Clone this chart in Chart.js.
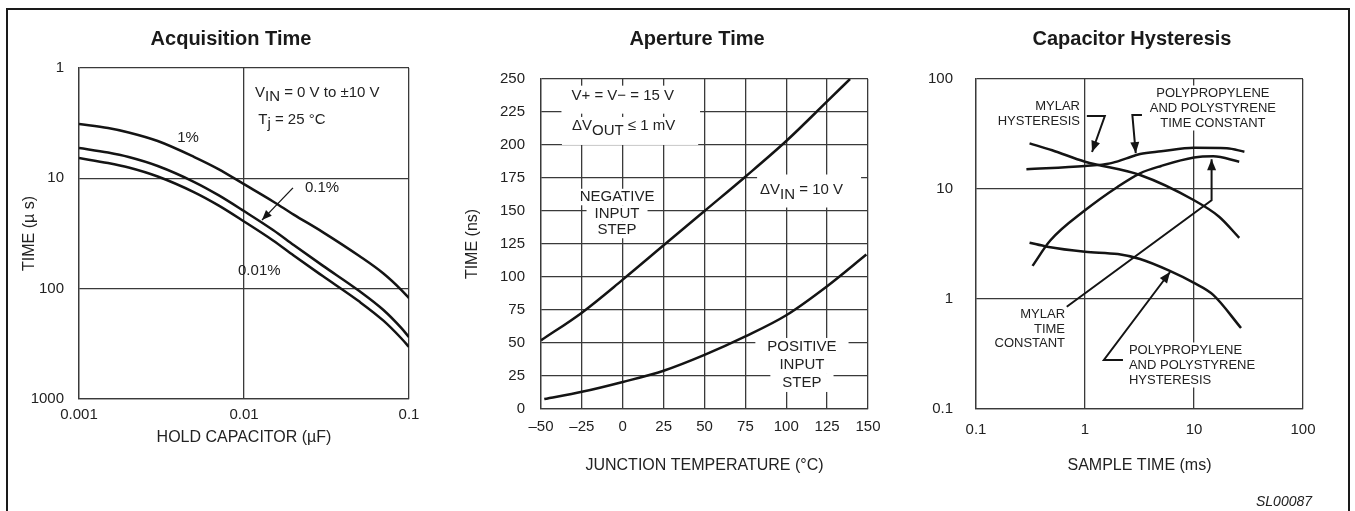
<!DOCTYPE html>
<html>
<head>
<meta charset="utf-8">
<script src="https://cdn.jsdelivr.net/npm/chart.js@4.4.1/dist/chart.umd.min.js"></script>
<style>
html,body{margin:0;padding:0;background:#fff;}
#wrap{position:relative;width:1355px;height:511px;overflow:hidden;background:#fff;}
#wrap canvas{position:absolute;left:0;top:0;}
#frame{position:absolute;left:6px;top:8px;width:1340px;height:540px;border:2px solid #1a1a1a;box-sizing:content-box;}
#code{position:absolute;left:1256px;top:493px;font:italic 14px 'Liberation Sans',Arial,sans-serif;color:#222;}
</style>
</head>
<body>
<div id="wrap">
<div id="frame"></div>
<canvas id="c1" width="1355" height="511"></canvas>
<canvas id="c2" width="1355" height="511"></canvas>
<canvas id="c3" width="1355" height="511"></canvas>
<div id="code">SL00087</div>
</div>
<script>
// ---------- DATA ----------
// Acquisition Time (hold capacitor in µF, time in µs)
const capUF      = [0.001, 0.0015, 0.002, 0.003, 0.005, 0.007, 0.01, 0.015, 0.02, 0.03, 0.05, 0.07, 0.09, 0.1];
const acq1pct    = [3.22, 3.5, 3.84, 4.59, 6.41, 8.24, 11.3, 16.2, 21.3, 30.7, 50.6, 72.9, 103, 122];
const acq01pct   = [5.32, 5.84, 6.41, 7.73, 10.8, 14.2, 19.8, 29.4, 40.2, 61.8, 105, 156, 228, 275];
const acq001pct  = [6.55, 7.26, 7.98, 9.63, 13.4, 17.6, 24.6, 36.6, 50.1, 76.9, 131, 195, 283, 338];
const acqXTicks  = [0.001, 0.01, 0.1];
const acqXLabels = ['0.001', '0.01', '0.1'];
const acqYTicks  = [1, 10, 100, 1000];
const acqYLabels = ['1', '10', '100', '1000'];

// Aperture Time (junction temperature °C, time ns)
const tempNeg = [-50, -25, 0, 25, 50, 75, 100, 125, 139];
const timeNeg = [52, 73, 98, 124, 150, 176, 203, 233, 250];
const tempPos = [-48, -25, 0, 25, 50, 75, 100, 125, 149];
const timePos = [7.5, 13, 20.5, 29, 41, 55, 71, 93, 117];
const apXTicks  = [-50, -25, 0, 25, 50, 75, 100, 125, 150];
const apXLabels = ['\u201350', '\u201325', '0', '25', '50', '75', '100', '125', '150'];
const apYTicks  = [0, 25, 50, 75, 100, 125, 150, 175, 200, 225, 250];
const apYLabels = ['0', '25', '50', '75', '100', '125', '150', '175', '200', '225', '250'];

// Capacitor Hysteresis (sample time ms, percent)
const mylarHysT = [0.31, 0.5, 1, 3.2, 10, 17, 26];
const mylarHysV = [26, 22.5, 17.7, 13.4, 7.9, 5.6, 3.6];
const polyTcT   = [0.29, 1, 1.7, 2.4, 3.2, 5, 10, 20, 29];
const polyTcV   = [15.1, 16.2, 17.1, 19, 20.8, 22, 23.7, 23.5, 21.8];
const mylarTcT  = [0.33, 0.48, 1, 2, 3.2, 5, 10, 15, 26];
const mylarTcV  = [2.0, 3.4, 6.4, 10.5, 13.9, 16.2, 19.3, 19.8, 17.7];
const polyHysT  = [0.31, 0.45, 1, 2, 3.2, 6, 10, 15, 27];
const polyHysV  = [3.25, 2.99, 2.69, 2.56, 2.31, 1.8, 1.4, 1.09, 0.545];
const hysTicks  = [0.1, 1, 10, 100];
const hysXLabels = ['0.1', '1', '10', '100'];
const hysYLabels = ['0.1', '1', '10', '100'];

// ---------- STYLE ----------
const FONT = "'Liberation Sans', Arial, Helvetica, sans-serif";
Chart.defaults.font.family = FONT;
Chart.defaults.color = '#222';
const GRID = '#3a3a3a';
const INK = '#141414';
const TXT = '#222';

function toXY(xs, ys) { return xs.map((x, i) => ({x: x, y: ys[i]})); }
function px(chart, x, y) { return [chart.scales.x.getPixelForValue(x), chart.scales.y.getPixelForValue(y)]; }
function partsOf(line) { return Array.isArray(line) ? line : [line]; }
function measureLine(ctx, line, base) {
  let w = 0;
  partsOf(line).forEach(p => {
    const s = typeof p === 'string' ? p : p.t;
    ctx.font = (typeof p === 'object' && p.f) ? p.f : base;
    w += ctx.measureText(s).width;
  });
  ctx.font = base;
  return w;
}

const notesPlugin = {
  id: 'notes',
  beforeDatasetsDraw(chart, args, o) {
    const ctx = chart.ctx;
    ctx.save();
    (o.texts || []).forEach(t => {
      const base = t.font || o.font;
      const lh = t.lh || o.lh || 15;
      const a = px(chart, t.x, t.y);
      ctx.font = base;
      const ws = t.lines.map(l => measureLine(ctx, l, base));
      const lefts = ws.map(w => t.align === 'right' ? a[0] - w : (t.align === 'left' ? a[0] : a[0] - w / 2));
      if (t.box) {
        ctx.fillStyle = '#fff';
        const [bl, br, bt, bb] = t.box;
        if (t.lineBoxes) {
          t.lines.forEach((l, i) => {
            const cy = a[1] + i * lh;
            ctx.fillRect(lefts[i] - bl, cy - lh / 2 - bt, ws[i] + bl + br, lh + bt + bb);
          });
        } else {
          const l0 = Math.min(...lefts);
          const r0 = Math.max(...lefts.map((l, i) => l + ws[i]));
          ctx.fillRect(l0 - bl, a[1] - lh / 2 - bt, r0 - l0 + bl + br, lh * t.lines.length + bt + bb);
        }
      }
      ctx.fillStyle = TXT;
      ctx.textBaseline = 'middle';
      ctx.textAlign = 'left';
      t.lines.forEach((l, i) => {
        let cx = lefts[i];
        const cy = a[1] + i * lh;
        partsOf(l).forEach(p => {
          const s = typeof p === 'string' ? p : p.t;
          ctx.font = (typeof p === 'object' && p.f) ? p.f : base;
          ctx.fillText(s, cx, cy + ((typeof p === 'object' && p.dy) ? p.dy : 0));
          cx += ctx.measureText(s).width;
        });
      });
    });
    ctx.restore();
  },
  afterDatasetsDraw(chart, args, o) {
    const ctx = chart.ctx;
    ctx.save();
    ctx.strokeStyle = INK;
    ctx.fillStyle = INK;
    (o.arrows || []).forEach(ar => {
      const pts = ar.pts.map(p => px(chart, p[0], p[1]));
      ctx.lineWidth = ar.w || 2;
      ctx.beginPath();
      pts.forEach((p, i) => i ? ctx.lineTo(p[0], p[1]) : ctx.moveTo(p[0], p[1]));
      ctx.stroke();
      const p1 = pts[pts.length - 2], p2 = pts[pts.length - 1];
      const ang = Math.atan2(p2[1] - p1[1], p2[0] - p1[0]);
      const L = ar.hl || 11, W = ar.hw || 4;
      ctx.beginPath();
      ctx.moveTo(p2[0], p2[1]);
      ctx.lineTo(p2[0] - L * Math.cos(ang) + W * Math.sin(ang), p2[1] - L * Math.sin(ang) - W * Math.cos(ang));
      ctx.lineTo(p2[0] - L * Math.cos(ang) - W * Math.sin(ang), p2[1] - L * Math.sin(ang) + W * Math.cos(ang));
      ctx.closePath();
      ctx.fill();
    });
    if (o.title) {
      ctx.font = 'bold 20px ' + FONT;
      ctx.textAlign = 'center';
      ctx.textBaseline = 'alphabetic';
      ctx.fillStyle = '#1a1a1a';
      ctx.fillText(o.title.text, o.title.x, o.title.y);
    }
    ctx.restore();
  }
};

function axis(opts) {
  const a = {
    type: opts.type,
    min: opts.min, max: opts.max,
    reverse: !!opts.reverse,
    afterBuildTicks: s => { s.ticks = opts.ticks.map(v => ({value: v})); },
    grid: {color: GRID, lineWidth: 1.3, drawTicks: false},
    border: {color: GRID, width: 1.3},
    ticks: {font: {size: 15}, color: TXT, padding: opts.pad, maxRotation: 0, minRotation: 0, autoSkip: false,
            callback: (v, i) => opts.labels[i]},
    title: {display: !!opts.title, text: opts.title || '', font: {size: 16}, color: TXT, padding: 0}
  };
  if (opts.width !== undefined) a.afterFit = s => { s.width = opts.width; };
  if (opts.height !== undefined) a.afterFit = s => { s.height = opts.height; };
  return a;
}

function lineDS(data) {
  return {data: data, borderColor: INK, borderWidth: 2.5, pointRadius: 0, fill: false,
          cubicInterpolationMode: 'monotone'};
}

function baseOptions(padding, scales, notes) {
  return {
    responsive: false, animation: false, events: [],
    layout: {padding: padding},
    plugins: {legend: {display: false}, tooltip: {enabled: false}, notes: notes},
    scales: scales
  };
}

const F15 = '15px ' + FONT;
const F13 = '13px ' + FONT;

// ---------- Chart 1: Acquisition Time ----------
new Chart(document.getElementById('c1'), {
  type: 'line',
  data: {datasets: [
    lineDS(toXY(capUF, acq1pct)),
    lineDS(toXY(capUF, acq01pct)),
    lineDS(toXY(capUF, acq001pct))
  ]},
  options: baseOptions(
    {left: 20, right: 946, top: 68, bottom: 64},
    {
      x: axis({type: 'logarithmic', min: 0.001, max: 0.1, ticks: acqXTicks, labels: acqXLabels, pad: 7,
               height: 48, title: 'HOLD CAPACITOR (\u00b5F)'}),
      y: axis({type: 'logarithmic', min: 1, max: 1000, reverse: true, ticks: acqYTicks, labels: acqYLabels, pad: 15,
               width: 59, title: 'TIME (\u00b5 s)'})
    },
    {
      font: F15, lh: 17,
      title: {text: 'Acquisition Time', x: 231, y: 45},
      texts: [
        {x: 0.00458, y: 4.26, align: 'center', lines: ['1%']},
        {x: 0.0234, y: 12.1, align: 'left', lines: ['0.1%']},
        {x: 0.0092, y: 69.2, align: 'left', lines: ['0.01%']},
        {x: 0.01166, y: 1.685, align: 'left', lines: [['V', {t: 'IN', dy: 4}, ' = 0 V to \u00b110 V']]},
        {x: 0.0122, y: 2.96, align: 'left', lines: [['T', {t: 'j', dy: 4}, ' = 25 \u00b0C']]}
      ],
      arrows: [
        {pts: [[0.0198, 12.2], [0.01285, 23.9]], w: 1.3, hl: 10, hw: 4}
      ]
    }
  ),
  plugins: [notesPlugin]
});

// ---------- Chart 2: Aperture Time ----------
new Chart(document.getElementById('c2'), {
  type: 'line',
  data: {datasets: [
    lineDS(toXY(tempNeg, timeNeg)),
    lineDS(toXY(tempPos, timePos))
  ]},
  options: baseOptions(
    {left: 463, right: 487, top: 79, bottom: 36},
    {
      x: axis({type: 'linear', min: -50, max: 150, ticks: apXTicks, labels: apXLabels, pad: 9,
               height: 66, title: 'JUNCTION TEMPERATURE (\u00b0C)'}),
      y: axis({type: 'linear', min: 0, max: 250, ticks: apYTicks, labels: apYLabels, pad: 16,
               width: 78, title: 'TIME (ns)'})
    },
    {
      font: F15, lh: 17,
      title: {text: 'Aperture Time', x: 697, y: 45},
      texts: [
        {x: 0, y: 237, align: 'center', lines: ['V+ = V\u2212 = 15 V'], box: [10, 26, 2, 9]},
        {x: 0.5, y: 214.8, align: 'center', lines: [['\u0394V', {t: 'OUT', dy: 5}, ' \u2264 1 mV']], box: [10, 23, 0, 11]},
        {x: -3.5, y: 160.6, align: 'center', lh: 16.5, lines: ['NEGATIVE', 'INPUT', 'STEP'], box: [8, 8, 0, 0], lineBoxes: true},
        {x: 84, y: 165.9, align: 'left', lines: [['\u0394V', {t: 'IN', dy: 5}, ' = 10 V']], box: [3, 18, 7, 9]},
        {x: 109.6, y: 47, align: 'center', lh: 18, lines: ['POSITIVE', 'INPUT', 'STEP'], box: [12, 12, 0, 0], lineBoxes: true}
      ],
      arrows: []
    }
  ),
  plugins: [notesPlugin]
});

// ---------- Chart 3: Capacitor Hysteresis ----------
new Chart(document.getElementById('c3'), {
  type: 'line',
  data: {datasets: [
    lineDS(toXY(mylarHysT, mylarHysV)),
    lineDS(toXY(polyTcT, polyTcV)),
    lineDS(toXY(mylarTcT, mylarTcV)),
    lineDS(toXY(polyHysT, polyHysV))
  ]},
  options: baseOptions(
    {left: 900, right: 52, top: 79, bottom: 36},
    {
      x: axis({type: 'logarithmic', min: 0.1, max: 100, ticks: hysTicks, labels: hysXLabels, pad: 12,
               height: 66, title: 'SAMPLE TIME (ms)'}),
      y: axis({type: 'logarithmic', min: 0.1, max: 100, ticks: hysTicks, labels: hysYLabels, pad: 23,
               width: 76})
    },
    {
      font: F13, lh: 15,
      title: {text: 'Capacitor Hysteresis', x: 1132, y: 45},
      texts: [
        {x: 0.9, y: 56.9, align: 'right', lines: ['MYLAR', 'HYSTERESIS']},
        {x: 14.9, y: 74.6, align: 'center', lines: ['POLYPROPYLENE', 'AND POLYSTYRENE', 'TIME CONSTANT'], box: [3, 3, 0, 0]},
        {x: 0.656, y: 0.723, align: 'right', lh: 14.5, lines: ['MYLAR', 'TIME', 'CONSTANT']},
        {x: 2.53, y: 0.344, align: 'left', lines: ['POLYPROPYLENE', 'AND POLYSTYRENE', 'HYSTERESIS'], box: [3, 3, 0, 0]}
      ],
      arrows: [
        {pts: [[1.04, 46.1], [1.52, 46.1], [1.16, 21.7]], w: 2, hl: 11, hw: 4.5},
        {pts: [[3.33, 47.1], [2.72, 47.1], [2.92, 21.2]], w: 2, hl: 11, hw: 4.5},
        {pts: [[0.68, 0.85], [14.5, 7.9], [14.5, 18.6]], w: 2, hl: 11, hw: 4.5},
        {pts: [[2.23, 0.279], [1.49, 0.279], [6.03, 1.76]], w: 2, hl: 11, hw: 4.5}
      ]
    }
  ),
  plugins: [notesPlugin]
});
</script>
</body>
</html>
